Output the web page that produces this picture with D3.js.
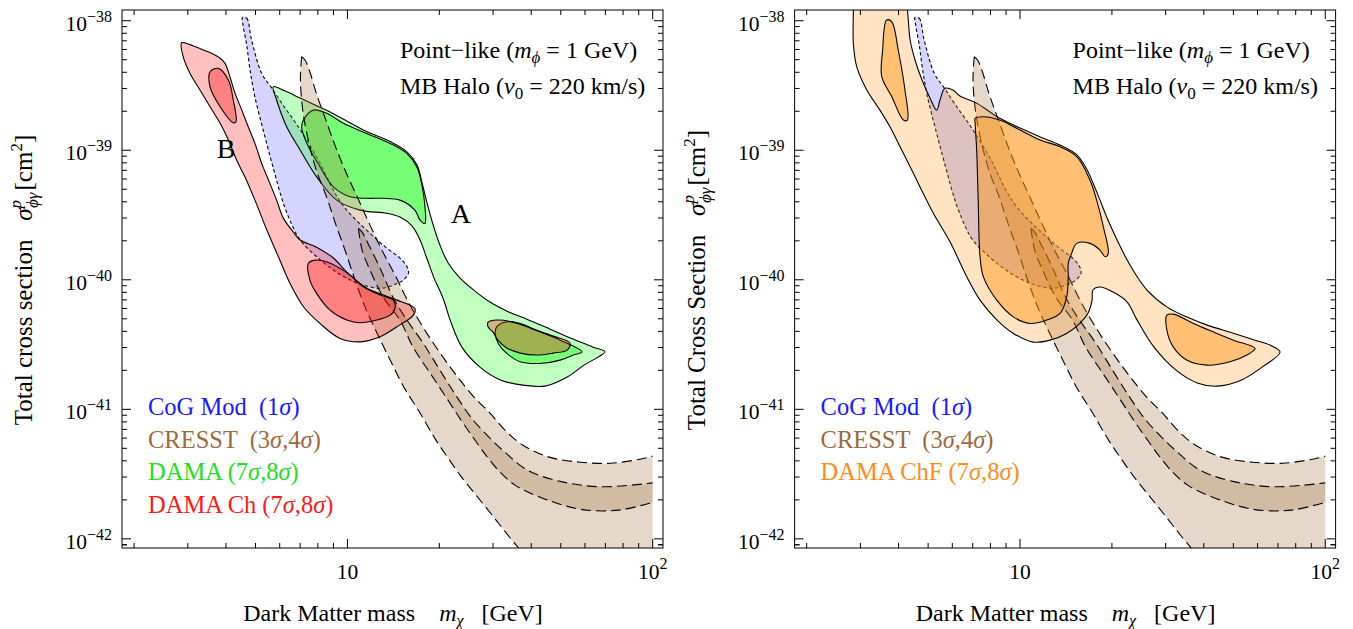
<!DOCTYPE html>
<html><head><meta charset="utf-8">
<script src="https://cdn.jsdelivr.net/npm/d3@7/dist/d3.min.js"></script>
<style>
html,body{margin:0;padding:0;background:#fff;}
text{font-family:"Liberation Serif","DejaVu Serif",serif;white-space:pre;}
</style></head><body>
<svg id="c" width="1353" height="629"></svg>
<script>
// ===== DATA (contour points as [log10(m / GeV), log10(sigma / cm^2)]) =====
const massDomain = [1.826, 108.1];
const sigmaDomain = [1.21e-38, 8.5e-43];
const xMajorTicks = [10, 100];
const xMinorTicks = [2,3,4,5,6,7,8,9,20,30,40,50,60,70,80,90];
const yMajorExp = [-38,-39,-40,-41,-42];

const cogMod = [[.656,-37.974],[.670,-37.981],[.686,-38.149],[.719,-38.406],[.752,-38.520],[.789,-38.651],[.835,-38.805],[.877,-38.960],[.917,-39.130],[.950,-39.292],[.992,-39.446],[1.074,-39.642],[1.129,-39.755],[1.172,-39.832],[1.194,-39.894],[1.200,-39.948],[1.183,-40.002],[1.150,-40.041],[1.107,-40.066],[1.052,-40.041],[1.009,-40.002],[.954,-39.925],[.899,-39.822],[.845,-39.693],[.823,-39.601],[.790,-39.408],[.757,-39.137],[.724,-38.844],[.697,-38.589],[.681,-38.381],[.670,-38.188],[.658,-38.033]];

const cresst4Lower = [[.850,-38.278],[.846,-38.458],[.855,-38.713],[.877,-38.975],[.900,-39.168],[.933,-39.369],[.959,-39.554],[.992,-39.771],[1.025,-40.002],[1.058,-40.211],[1.097,-40.412],[1.140,-40.620],[1.185,-40.829],[1.238,-41.029],[1.290,-41.238],[1.330,-41.377],[1.369,-41.508],[1.408,-41.624],[1.448,-41.740],[1.487,-41.856],[1.526,-41.972],[1.566,-42.087],[1.605,-42.203]];
const cresst4Upper = [[.850,-38.278],[.861,-38.303],[.877,-38.396],[.900,-38.574],[.927,-38.751],[.959,-38.960],[.992,-39.153],[1.031,-39.354],[1.074,-39.578],[1.113,-39.771],[1.156,-39.964],[1.205,-40.195],[1.264,-40.427],[1.320,-40.620],[1.369,-40.775],[1.418,-40.914],[1.467,-41.029],[1.516,-41.161],[1.575,-41.277],[1.661,-41.369],[1.762,-41.408],[1.861,-41.416],[1.959,-41.385],[2.0,-41.361]];
const cresst4Corner = [2.0,-42.203];

const cresst3Lower = [[1.036,-39.603],[1.048,-39.771],[1.074,-39.925],[1.117,-40.134],[1.172,-40.311],[1.215,-40.520],[1.271,-40.721],[1.323,-40.906],[1.372,-41.083],[1.418,-41.238],[1.461,-41.377],[1.500,-41.485],[1.549,-41.585],[1.631,-41.678],[1.762,-41.771],[1.890,-41.778],[2.0,-41.717]];
const cresst3Upper = [[1.036,-39.603],[1.048,-39.632],[1.067,-39.717],[1.107,-39.910],[1.149,-40.134],[1.195,-40.311],[1.248,-40.489],[1.303,-40.697],[1.359,-40.906],[1.412,-41.083],[1.467,-41.222],[1.516,-41.331],[1.590,-41.470],[1.704,-41.560],[1.833,-41.598],[2.0,-41.568]];

const damaOuter = [[.757,-38.510],[.796,-38.543],[.845,-38.597],[.894,-38.651],[.943,-38.705],[.992,-38.767],[1.063,-38.856],[1.140,-38.933],[1.194,-39.010],[1.228,-39.114],[1.244,-39.246],[1.261,-39.408],[1.280,-39.570],[1.303,-39.732],[1.330,-39.871],[1.369,-39.987],[1.418,-40.087],[1.467,-40.172],[1.523,-40.242],[1.588,-40.304],[1.664,-40.381],[1.739,-40.458],[1.805,-40.520],[1.844,-40.556],[1.821,-40.597],[1.775,-40.659],[1.720,-40.751],[1.647,-40.821],[1.575,-40.813],[1.503,-40.775],[1.434,-40.674],[1.375,-40.520],[1.339,-40.327],[1.313,-40.141],[1.284,-39.987],[1.261,-39.840],[1.238,-39.693],[1.212,-39.585],[1.172,-39.516],[1.129,-39.487],[1.041,-39.462],[.965,-39.385],[.899,-39.205],[.845,-38.998],[.801,-38.819],[.768,-38.612]];
const damaInnerA = [[.856,-38.767],[.888,-38.690],[.932,-38.715],[.987,-38.792],[1.063,-38.870],[1.140,-38.947],[1.194,-39.024],[1.227,-39.127],[1.243,-39.256],[1.254,-39.436],[1.254,-39.565],[1.238,-39.539],[1.221,-39.462],[1.172,-39.385],[1.118,-39.371],[1.063,-39.371],[1.009,-39.359],[.954,-39.282],[.910,-39.127],[.867,-38.947],[.850,-38.819]];
const damaInnerB = [[1.489,-40.363],[1.522,-40.324],[1.566,-40.337],[1.631,-40.402],[1.697,-40.466],[1.768,-40.556],[1.740,-40.581],[1.697,-40.620],[1.631,-40.646],[1.566,-40.633],[1.522,-40.568],[1.494,-40.491],[1.484,-40.414]];

const damaChOuterB = [[.457,-38.170],[.495,-38.195],[.528,-38.226],[.555,-38.252],[.583,-38.290],[.599,-38.329],[.615,-38.432],[.632,-38.561],[.654,-38.690],[.675,-38.819],[.697,-38.947],[.719,-39.101],[.746,-39.256],[.768,-39.385],[.790,-39.524],[.823,-39.632],[.845,-39.693],[.899,-39.748],[.954,-39.832],[.998,-39.941],[1.063,-40.064],[1.118,-40.118],[1.162,-40.157],[1.221,-40.221],[1.216,-40.273],[1.162,-40.363],[1.107,-40.440],[1.041,-40.479],[.976,-40.453],[.910,-40.337],[.856,-40.208],[.812,-40.028],[.774,-39.822],[.736,-39.616],[.697,-39.385],[.664,-39.205],[.637,-39.076],[.610,-38.921],[.583,-38.792],[.550,-38.664],[.517,-38.535],[.484,-38.406],[.462,-38.278]];
const damaChInnerB1 = [[.550,-38.394],[.577,-38.368],[.610,-38.458],[.626,-38.612],[.635,-38.780],[.626,-38.788],[.583,-38.664],[.550,-38.510]];
const damaChInnerB2 = [[.872,-39.873],[.894,-39.848],[.932,-39.861],[.976,-39.912],[1.009,-39.964],[1.052,-40.054],[1.107,-40.118],[1.150,-40.157],[1.156,-40.221],[1.140,-40.273],[1.096,-40.311],[1.041,-40.332],[.998,-40.311],[.943,-40.234],[.899,-40.105],[.877,-40.002]];
const damaChOuterA = [[1.461,-40.327],[1.490,-40.311],[1.543,-40.327],[1.608,-40.381],[1.674,-40.435],[1.729,-40.489],[1.720,-40.543],[1.674,-40.566],[1.621,-40.581],[1.566,-40.566],[1.523,-40.528],[1.493,-40.466],[1.477,-40.404],[1.461,-40.365]];

const chfOuter = [[.453,-37.686],[.631,-37.686],[.631,-37.892],[.634,-37.995],[.640,-38.149],[.656,-38.303],[.679,-38.458],[.705,-38.597],[.727,-38.690],[.738,-38.612],[.754,-38.522],[.780,-38.535],[.803,-38.581],[.859,-38.638],[.925,-38.741],[1.0,-38.829],[1.075,-38.906],[1.131,-38.960],[1.187,-39.037],[1.220,-39.153],[1.239,-39.253],[1.262,-39.385],[1.288,-39.539],[1.318,-39.693],[1.344,-39.817],[1.370,-39.925],[1.416,-40.079],[1.482,-40.211],[1.547,-40.288],[1.613,-40.350],[1.698,-40.412],[1.770,-40.466],[1.819,-40.504],[1.852,-40.558],[1.793,-40.674],[1.724,-40.775],[1.645,-40.821],[1.583,-40.798],[1.511,-40.697],[1.439,-40.520],[1.380,-40.296],[1.351,-40.172],[1.305,-40.095],[1.262,-40.056],[1.239,-40.079],[1.236,-40.157],[1.223,-40.257],[1.197,-40.334],[1.154,-40.412],[1.098,-40.466],[1.043,-40.481],[.977,-40.412],[.925,-40.311],[.869,-40.157],[.826,-39.979],[.771,-39.709],[.716,-39.487],[.672,-39.282],[.640,-39.127],[.607,-38.973],[.574,-38.819],[.541,-38.690],[.498,-38.535],[.465,-38.355],[.454,-38.175],[.454,-37.917]];
const chfInner1 = [[.563,-37.995],[.580,-38.008],[.601,-38.226],[.623,-38.535],[.631,-38.767],[.618,-38.767],[.580,-38.587],[.547,-38.432],[.550,-38.226]];
const chfInner2 = [[.853,-38.754],[.880,-38.741],[.934,-38.767],[1.0,-38.844],[1.066,-38.921],[1.131,-38.973],[1.186,-39.050],[1.229,-39.230],[1.251,-39.385],[1.273,-39.591],[1.289,-39.796],[1.279,-39.822],[1.262,-39.771],[1.229,-39.719],[1.186,-39.719],[1.169,-39.796],[1.158,-39.873],[1.158,-39.977],[1.153,-40.131],[1.131,-40.260],[1.087,-40.311],[1.033,-40.337],[.978,-40.286],[.924,-40.157],[.880,-39.977],[.869,-39.822],[.863,-39.385],[.858,-38.998],[.853,-38.792]];
const chfInner3 = [[1.481,-40.273],[1.502,-40.265],[1.568,-40.337],[1.633,-40.402],[1.699,-40.466],[1.770,-40.530],[1.743,-40.581],[1.688,-40.633],[1.612,-40.659],[1.546,-40.620],[1.502,-40.518],[1.481,-40.388]];

// ===== DRAWING =====
const svg = d3.select('#c');
const TICKFONT = 21.5, TEXTFONT = 24, LEGFONT = 24.5;
const panels = [
  {left:122, right:663, top:10, bottom:548, ylab:"Total cross section", legend:[
    {parts:[{t:"CoG Mod  (1"},{t:"σ",i:1},{t:")"}], color:"#1a1aff"},
    {parts:[{t:"CRESST  (3"},{t:"σ",i:1},{t:",4"},{t:"σ",i:1},{t:")"}], color:"#9c6a3e"},
    {parts:[{t:"DAMA (7"},{t:"σ",i:1},{t:",8"},{t:"σ",i:1},{t:")"}], color:"#1ee01e"},
    {parts:[{t:"DAMA Ch (7"},{t:"σ",i:1},{t:",8"},{t:"σ",i:1},{t:")"}], color:"#ff1a1a"}], kind:'dama'},
  {left:794.6, right:1335.6, top:10, bottom:548, ylab:"Total Cross Section", legend:[
    {parts:[{t:"CoG Mod  (1"},{t:"σ",i:1},{t:")"}], color:"#1a1aff"},
    {parts:[{t:"CRESST  (3"},{t:"σ",i:1},{t:",4"},{t:"σ",i:1},{t:")"}], color:"#9c6a3e"},
    {parts:[{t:"DAMA ChF (7"},{t:"σ",i:1},{t:",8"},{t:"σ",i:1},{t:")"}], color:"#ff8c1a"}], kind:'chf'}
];

function rich(g,x,y,parts,o){
  const t=g.append('text').attr('x',x).attr('y',y).attr('font-size',o.size).attr('fill',o.fill||'#000').attr('text-anchor',o.anchor||'start');
  if(o.rot) t.attr('transform',`rotate(-90,${x},${y})`);
  for(const p of parts){
    const s=t.append('tspan').text(p.t);
    if(p.i) s.attr('font-style','italic');
    if(p.dy!=null) s.attr('dy',p.dy);
    if(p.dx!=null) s.attr('dx',p.dx);
    if(p.fs) s.attr('font-size',p.fs);
  }
  return t;
}

panels.forEach((P,pi)=>{
  const x = d3.scaleLog().domain(massDomain).range([P.left,P.right]);
  const y = d3.scaleLog().domain(sigmaDomain).range([P.top,P.bottom]);
  const X = d=>x(Math.pow(10,d[0])), Y = d=>y(Math.pow(10,d[1]));
  const closed = d3.line().x(X).y(Y).curve(d3.curveCatmullRomClosed.alpha(0.5));
  const open = d3.line().x(X).y(Y).curve(d3.curveCatmullRom.alpha(0.5));
  const g = svg.append('g');
  const cid = 'clip'+pi;
  g.append('clipPath').attr('id',cid).append('rect').attr('x',P.left).attr('y',P.top).attr('width',P.right-P.left).attr('height',P.bottom-P.top);
  const pg = g.append('g').attr('clip-path',`url(#${cid})`);

  function region(pts, fill, op, dash){
    pg.append('path').attr('d',closed(pts)).attr('fill',fill).attr('fill-opacity',op)
      .attr('stroke','#000').attr('stroke-width',1.1).attr('stroke-dasharray',dash||null).attr('stroke-linejoin','round');
  }
  function band(a, b, corner, fill, op){
    let d = open(a);
    if(corner) d += 'L'+X(corner)+','+Y(corner);
    d += open(b.slice().reverse()).replace(/^M/,'L') + 'Z';
    pg.append('path').attr('d',d).attr('fill',fill).attr('fill-opacity',op).attr('stroke','none');
    [a,b].forEach(l=>pg.append('path').attr('d',open(l)).attr('fill','none').attr('stroke','#000').attr('stroke-width',1.1).attr('stroke-dasharray','10,5'));
  }

  // CoG Mod
  region(cogMod,'#0000ff',0.17,'3.5,2.5');
  if(P.kind==='dama'){
    region(damaOuter,'#00ff00',0.25);
    region(damaInnerA,'#00ff00',0.38);
    region(damaInnerB,'#00ff00',0.38);
  }
  // CRESST
  band(cresst4Lower, cresst4Upper, cresst4Corner, 'rgb(160,110,60)', 0.27);
  band(cresst3Lower, cresst3Upper, null, 'rgb(160,110,60)', 0.27);
  if(P.kind==='dama'){
    region(damaChOuterB,'#ff0000',0.25);
    region(damaChInnerB1,'#ff0000',0.33);
    region(damaChInnerB2,'#ff0000',0.33);
    region(damaChOuterA,'#ff0000',0.3);
  } else {
    region(chfOuter,'#ff8c00',0.24);
    region(chfInner1,'#ff8c00',0.4);
    region(chfInner2,'#ff8c00',0.4);
    region(chfInner3,'#ff8c00',0.4);
  }

  // frame
  g.append('rect').attr('x',P.left).attr('y',P.top).attr('width',P.right-P.left).attr('height',P.bottom-P.top)
    .attr('fill','none').attr('stroke','#000').attr('stroke-width',1);

  // ticks
  const tg = g.append('g').attr('stroke','#000').attr('stroke-width',1);
  const xt = xMajorTicks.map(v=>[v,9]).concat(xMinorTicks.map(v=>[v,5]));
  xt.forEach(([v,L])=>{
    const px=x(v);
    tg.append('line').attr('x1',px).attr('x2',px).attr('y1',P.bottom).attr('y2',P.bottom-L);
    tg.append('line').attr('x1',px).attr('x2',px).attr('y1',P.top).attr('y2',P.top+L);
  });
  const yt=[];
  yMajorExp.forEach(e=>{
    yt.push([Math.pow(10,e),9]);
    for(let k=2;k<=9;k++) yt.push([k*Math.pow(10,e-1),5]);
  });
  for(let k=2;k<=9;k++) yt.push([k*1e-43,5]);
  yt.forEach(([v,L])=>{
    if(v>sigmaDomain[0]||v<sigmaDomain[1]) return;
    const py=y(v);
    tg.append('line').attr('x1',P.left).attr('x2',P.left+L).attr('y1',py).attr('y2',py);
    tg.append('line').attr('x1',P.right).attr('x2',P.right-L).attr('y1',py).attr('y2',py);
  });

  // tick labels
  rich(g,x(10),579,[{t:"10"}],{size:TICKFONT,anchor:'middle'});
  rich(g,x(100),579,[{t:"10"},{t:"2",fs:16,dy:-10}],{size:TICKFONT,anchor:'middle'});
  yMajorExp.forEach(e=>{
    rich(g,P.left-10,y(Math.pow(10,e))+10,[{t:"10"},{t:"−"+(-e),fs:16,dy:-9}],{size:TICKFONT,anchor:'end'});
  });

  // axis labels
  rich(g,P.left+271,621,[{t:"Dark Matter mass    "},{t:"m",i:1},{t:"χ",i:1,fs:16,dy:5},{t:"   [GeV]",dy:-5}],{size:TEXTFONT,anchor:'middle'});
  rich(g,P.left-90,280,[{t:P.ylab+"   "},{t:"σ",i:1},{t:"p",i:1,fs:17,dy:-11},{t:"ϕγ",i:1,fs:17,dx:-8,dy:17},{t:"[cm",dy:-6,dx:2},{t:"2",fs:17,dy:-10},{t:"]",dy:10}],{size:25,anchor:'middle',rot:true});

  // annotations
  rich(g,P.left+278,58,[{t:"Point−like ("},{t:"m",i:1},{t:"ϕ",i:1,fs:17,dy:5},{t:" = 1 GeV)",dy:-5}],{size:TEXTFONT});
  rich(g,P.left+278,94,[{t:"MB Halo ("},{t:"v",i:1},{t:"0",fs:17,dy:5},{t:" = 220 km/s)",dy:-5}],{size:TEXTFONT});
  if(P.kind==='dama'){
    rich(g,x(3.73),158,[{t:"B"}],{size:28});
    rich(g,x(21.8),223,[{t:"A"}],{size:28});
  }

  // legend
  P.legend.forEach((L,i)=>{
    rich(g,P.left+26,415+i*32.6,L.parts,{size:LEGFONT,fill:L.color});
  });
});
</script>
</body></html>
